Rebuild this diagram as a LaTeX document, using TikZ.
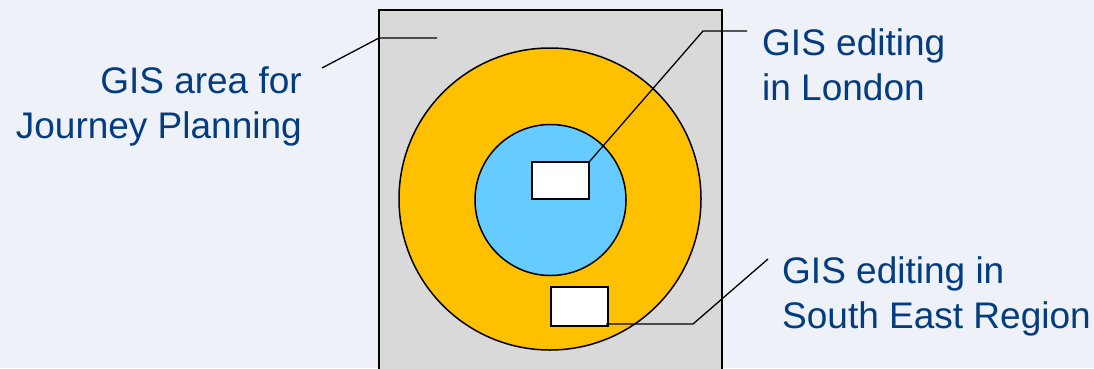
\documentclass[tikz,border=0pt]{standalone}
\usepackage{fontspec}
\setmainfont{Liberation Sans}
\usetikzlibrary{positioning}

\definecolor{bgblue}{HTML}{EEF1F7}
\definecolor{areagray}{HTML}{D9D9D9}
\definecolor{seorange}{HTML}{FFC000}
\definecolor{londonblue}{HTML}{66CCFF}
\definecolor{labelblue}{HTML}{033C7F}

\tikzset{
  outline/.style={draw=black, line width=1.5pt},
  editbox/.style={outline, fill=white, inner sep=0pt, minimum width=57pt},
  region/.style={outline, circle, inner sep=0pt},
  label/.style={text=labelblue, inner sep=0pt, font=\fontsize{37}{45}\selectfont},
  leader/.style={black, line width=1.3pt}
}

\begin{document}
\begin{tikzpicture}[x=1pt, y=-1pt]
\useasboundingbox (0,0) rectangle (1094,368);
\fill[bgblue] (0,0) rectangle (1094,368);

% Journey planning area (runs off the bottom)
\begin{scope}
\clip (0,0) rectangle (1094,368);
\draw[outline, fill=areagray] (379,390) -- (379,10) -- (722,10) -- (722,390);
\end{scope}

% Regions
\node[region, fill=seorange, minimum size=302pt] (southeast) at (550,199) {};
\node[region, fill=londonblue, minimum size=151pt] (london) at (550.5,200) {};

% Editing boxes
\node[editbox, minimum height=37pt] (londonbox) at (560.5,180.5) {};
\node[editbox, minimum height=39pt] (sebox) at (579.5,306.5) {};

% Labels (base = last line)
\node[label, align=right, anchor=base east] (arealabel) at (302,138)
  {GIS area for\\Journey Planning};
\node[label, align=left, anchor=base west] (londonlabel) at (762,100)
  {GIS editing\\in London};
\node[label, align=left, anchor=base west] (selabel) at (782,328)
  {GIS editing in\\South East Region};

% Leader lines
\coordinate (areastart) at (322,68);
\coordinate (areabend) at (379,38);
\coordinate (areaend) at (437,38);
\draw[leader] (areastart) -- (areabend) -- (areaend);

\coordinate (londonbend) at (703,31);
\coordinate (londonend) at (747,31);
\draw[leader] (londonbox.north east) -- (londonbend) -- (londonend);

\coordinate (sestart) at (606,324);
\coordinate (sebend) at (693,324);
\coordinate (seend) at (768,259);
\draw[leader] (sestart) -- (sebend) -- (seend);
\end{tikzpicture}
\end{document}
